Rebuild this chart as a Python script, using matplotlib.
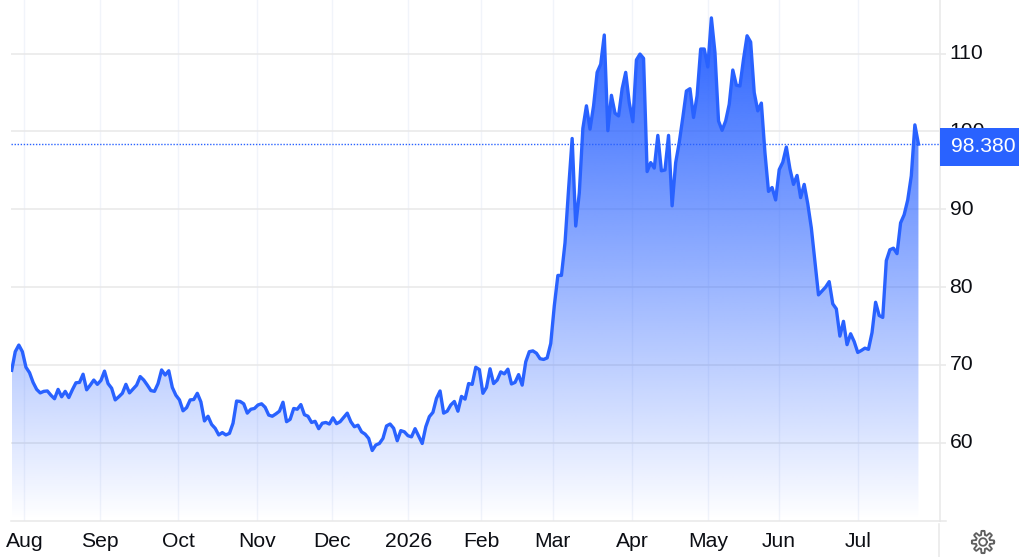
#!/usr/bin/env python

import matplotlib
matplotlib.use("Agg")
import matplotlib.pyplot as plt
import numpy as np
from matplotlib.colors import to_rgb
from matplotlib.patches import Rectangle
from matplotlib.transforms import ScaledTranslation

plt.rcParams['font.family'] = ['Liberation Sans', 'DejaVu Sans']

# one close per trading day
price = [
    69.3, 71.7, 72.55, 71.7, 69.7, 69.0, 67.75, 66.85, 66.4, 66.6, 66.65, 66.1, 65.65, 66.85, 65.9, 66.6,
    65.8, 66.8, 67.7, 67.75, 68.8, 66.8, 67.4, 68.05, 67.5, 68.0, 69.2, 67.6, 67.0, 65.5, 65.9, 66.35,
    67.5, 66.4, 66.9, 67.4, 68.5, 68.05, 67.4, 66.7, 66.6, 67.6, 69.35, 68.7, 69.25, 67.1, 66.1, 65.5,
    64.1, 64.5, 65.5, 65.55, 66.35, 65.25, 62.8, 63.4, 62.35, 61.85, 61.0, 61.3, 61.0, 61.2, 62.5, 65.35,
    65.3, 65.0, 63.8, 64.3, 64.4, 64.85, 65.0, 64.55, 63.55, 63.4, 63.7, 64.05, 65.2, 62.7, 63.0, 64.4,
    64.3, 64.9, 63.6, 63.4, 62.6, 62.75, 61.8, 62.5, 62.6, 62.4, 63.2, 62.45, 62.7,
    63.25, 63.8, 62.7, 62.05, 62.25, 61.4, 61.1, 60.55, 59.0, 59.7, 59.9, 60.55, 62.15, 62.4, 61.85, 60.25,
    61.55, 61.4, 60.9, 60.75, 61.8, 60.85, 59.9, 62.05, 63.35, 63.9, 65.7, 66.65, 63.8, 64.05, 64.85, 65.3,
    64.05, 65.95, 65.6, 67.6, 67.5, 69.7, 69.4, 66.35, 67.1, 69.5, 67.6, 68.05, 69.1, 68.85, 69.45, 67.55,
    67.75, 68.75, 67.4, 70.4, 71.7, 71.8, 71.5, 70.8, 70.7, 70.9, 72.75,
    77.6, 81.5, 81.5, 85.7, 92.6, 99.1, 87.85, 92.1, 100.4, 103.3, 100.3, 103.3, 107.6, 108.65, 112.4, 100.1,
    104.65, 102.35, 102.0, 105.5, 107.6, 103.7, 101.25, 109.2, 109.95, 109.4, 94.85, 96.0, 95.3, 99.5, 94.95,
    95.05, 99.5, 90.45, 96.0, 98.6, 101.8, 105.2, 105.5, 101.8, 104.6, 110.6, 110.6, 108.3, 114.6, 110.15,
    101.35, 100.15, 101.35, 103.5, 107.9, 105.95, 105.85, 109.3, 112.3, 111.5, 105.0, 102.65, 103.65, 97.3,
    92.3, 92.8, 91.2, 95.1, 96.05, 98.0, 95.2, 93.2, 94.35, 91.5, 93.2, 90.7, 87.6, 83.3, 79.0, 79.5, 80.0,
    80.7, 77.85, 77.2, 73.7, 75.6, 72.6, 74.0, 73.0, 71.6, 71.85, 72.15, 72.0, 74.15, 78.05, 76.35, 76.1,
    83.4, 84.8, 85.0, 84.3, 88.25, 89.3, 91.2, 94.3, 100.85, 98.38,
]
last_price = 98.38

month_labels = ['Aug', 'Sep', 'Oct', 'Nov', 'Dec', '2026', 'Feb', 'Mar', 'Apr', 'May', 'Jun', 'Jul']
month_pos = [3.54, 24.74, 46.67, 68.8, 89.7, 111.1, 131.55, 151.55, 173.85, 195.0, 215.0, 237.15]
y_ticks = [60, 70, 80, 90, 100, 110]

W, H = 1020, 557
BLUE = '#2962ff'
GRID_H = '#e8e8e8'
GRID_V = '#f1f4fa'
TEXT = '#0c0e14'
FS = 15.2

x = np.arange(len(price))
y = np.array(price)

fig = plt.figure(figsize=(W / 100, H / 100), dpi=100)
ax = fig.add_axes([11 / W, (H - 520.5) / H, 929 / W, 520.5 / H])
ax.set_xlim(-0.19, 260.04)
ax.set_ylim(50.0, 116.9)

for s in ['top', 'left']:
    ax.spines[s].set_visible(False)
for s in ['bottom', 'right']:
    ax.spines[s].set_color(GRID_H)
    ax.spines[s].set_linewidth(1.1)

ax.set_xticks(month_pos, month_labels)
ax.set_yticks(y_ticks)
ax.yaxis.tick_right()
ax.tick_params(axis='x', length=0, pad=8, labelsize=FS, labelcolor=TEXT)
ax.tick_params(axis='y', length=4.4, width=1.1, color=GRID_H, pad=2.5, labelsize=FS, labelcolor=TEXT)
ax.grid(axis='y', color=GRID_H, lw=1.1, zorder=0)
ax.grid(axis='x', color=GRID_V, lw=1.0, zorder=0)
ax.set_axisbelow(True)

up = ScaledTranslation(0, 1.5 / 72, fig.dpi_scale_trans)
for lab in ax.get_yticklabels():
    lab.set_transform(lab.get_transform() + up)

# area under the line, fading to nothing at the bottom of the axes
grad = np.ones((256, 2, 4))
grad[:, :, :3] = to_rgb(BLUE)
grad[:, :, 3] = np.linspace(1.0, 0.0, 256)[:, None]
ylo, yhi = ax.get_ylim()
img = ax.imshow(grad, extent=[x[0], x[-1], ylo, 114.6], origin='upper', aspect='auto', zorder=1,
                interpolation='bilinear')
area = ax.fill_between(x, y, ylo, facecolor='none', edgecolor='none', zorder=1)
img.set_clip_path(area.get_paths()[0], transform=ax.transData)
ax.set_xlim(-0.19, 260.04)
ax.set_ylim(ylo, yhi)

ax.plot(x, y, color=BLUE, lw=2.4, solid_joinstyle='round', zorder=3)
ax.axhline(last_price, color=BLUE, lw=1.0, ls=(0, (1, 1.2)), zorder=4)

# last price tag over the axis
fig.add_artist(Rectangle((940 / W, (H - 166) / H), 80 / W, 38 / H, transform=fig.transFigure,
                         facecolor=BLUE, edgecolor='none', zorder=5))
fig.text(983 / W, (H - 147) / H, '%.3f' % last_price, color='white', fontsize=FS,
         ha='center', va='center', zorder=6)

# axis corner and settings icon
fig.add_artist(plt.Line2D([940 / W, 946 / W], [(H - 520.5) / H] * 2, color=GRID_H, lw=1.1))
fig.add_artist(plt.Line2D([939.5 / W] * 2, [0, (H - 524) / H], color=GRID_H, lw=1.1))
t = np.linspace(0, 2 * np.pi, 241)
r = 9.2 + 2.0 * np.clip(2.2 * np.cos(8 * t), -1, 1)
gear_x = (983 + r * np.cos(t)) / W
gear_y = (H - 542 + r * np.sin(t)) / H
fig.add_artist(plt.Line2D(gear_x, gear_y, color='#5f5f5f', lw=1.3))
fig.add_artist(plt.Line2D((983 + 3.8 * np.cos(t)) / W, (H - 542 + 3.8 * np.sin(t)) / H, color='#5f5f5f', lw=1.3))

fig.savefig('out.png', dpi=100)
